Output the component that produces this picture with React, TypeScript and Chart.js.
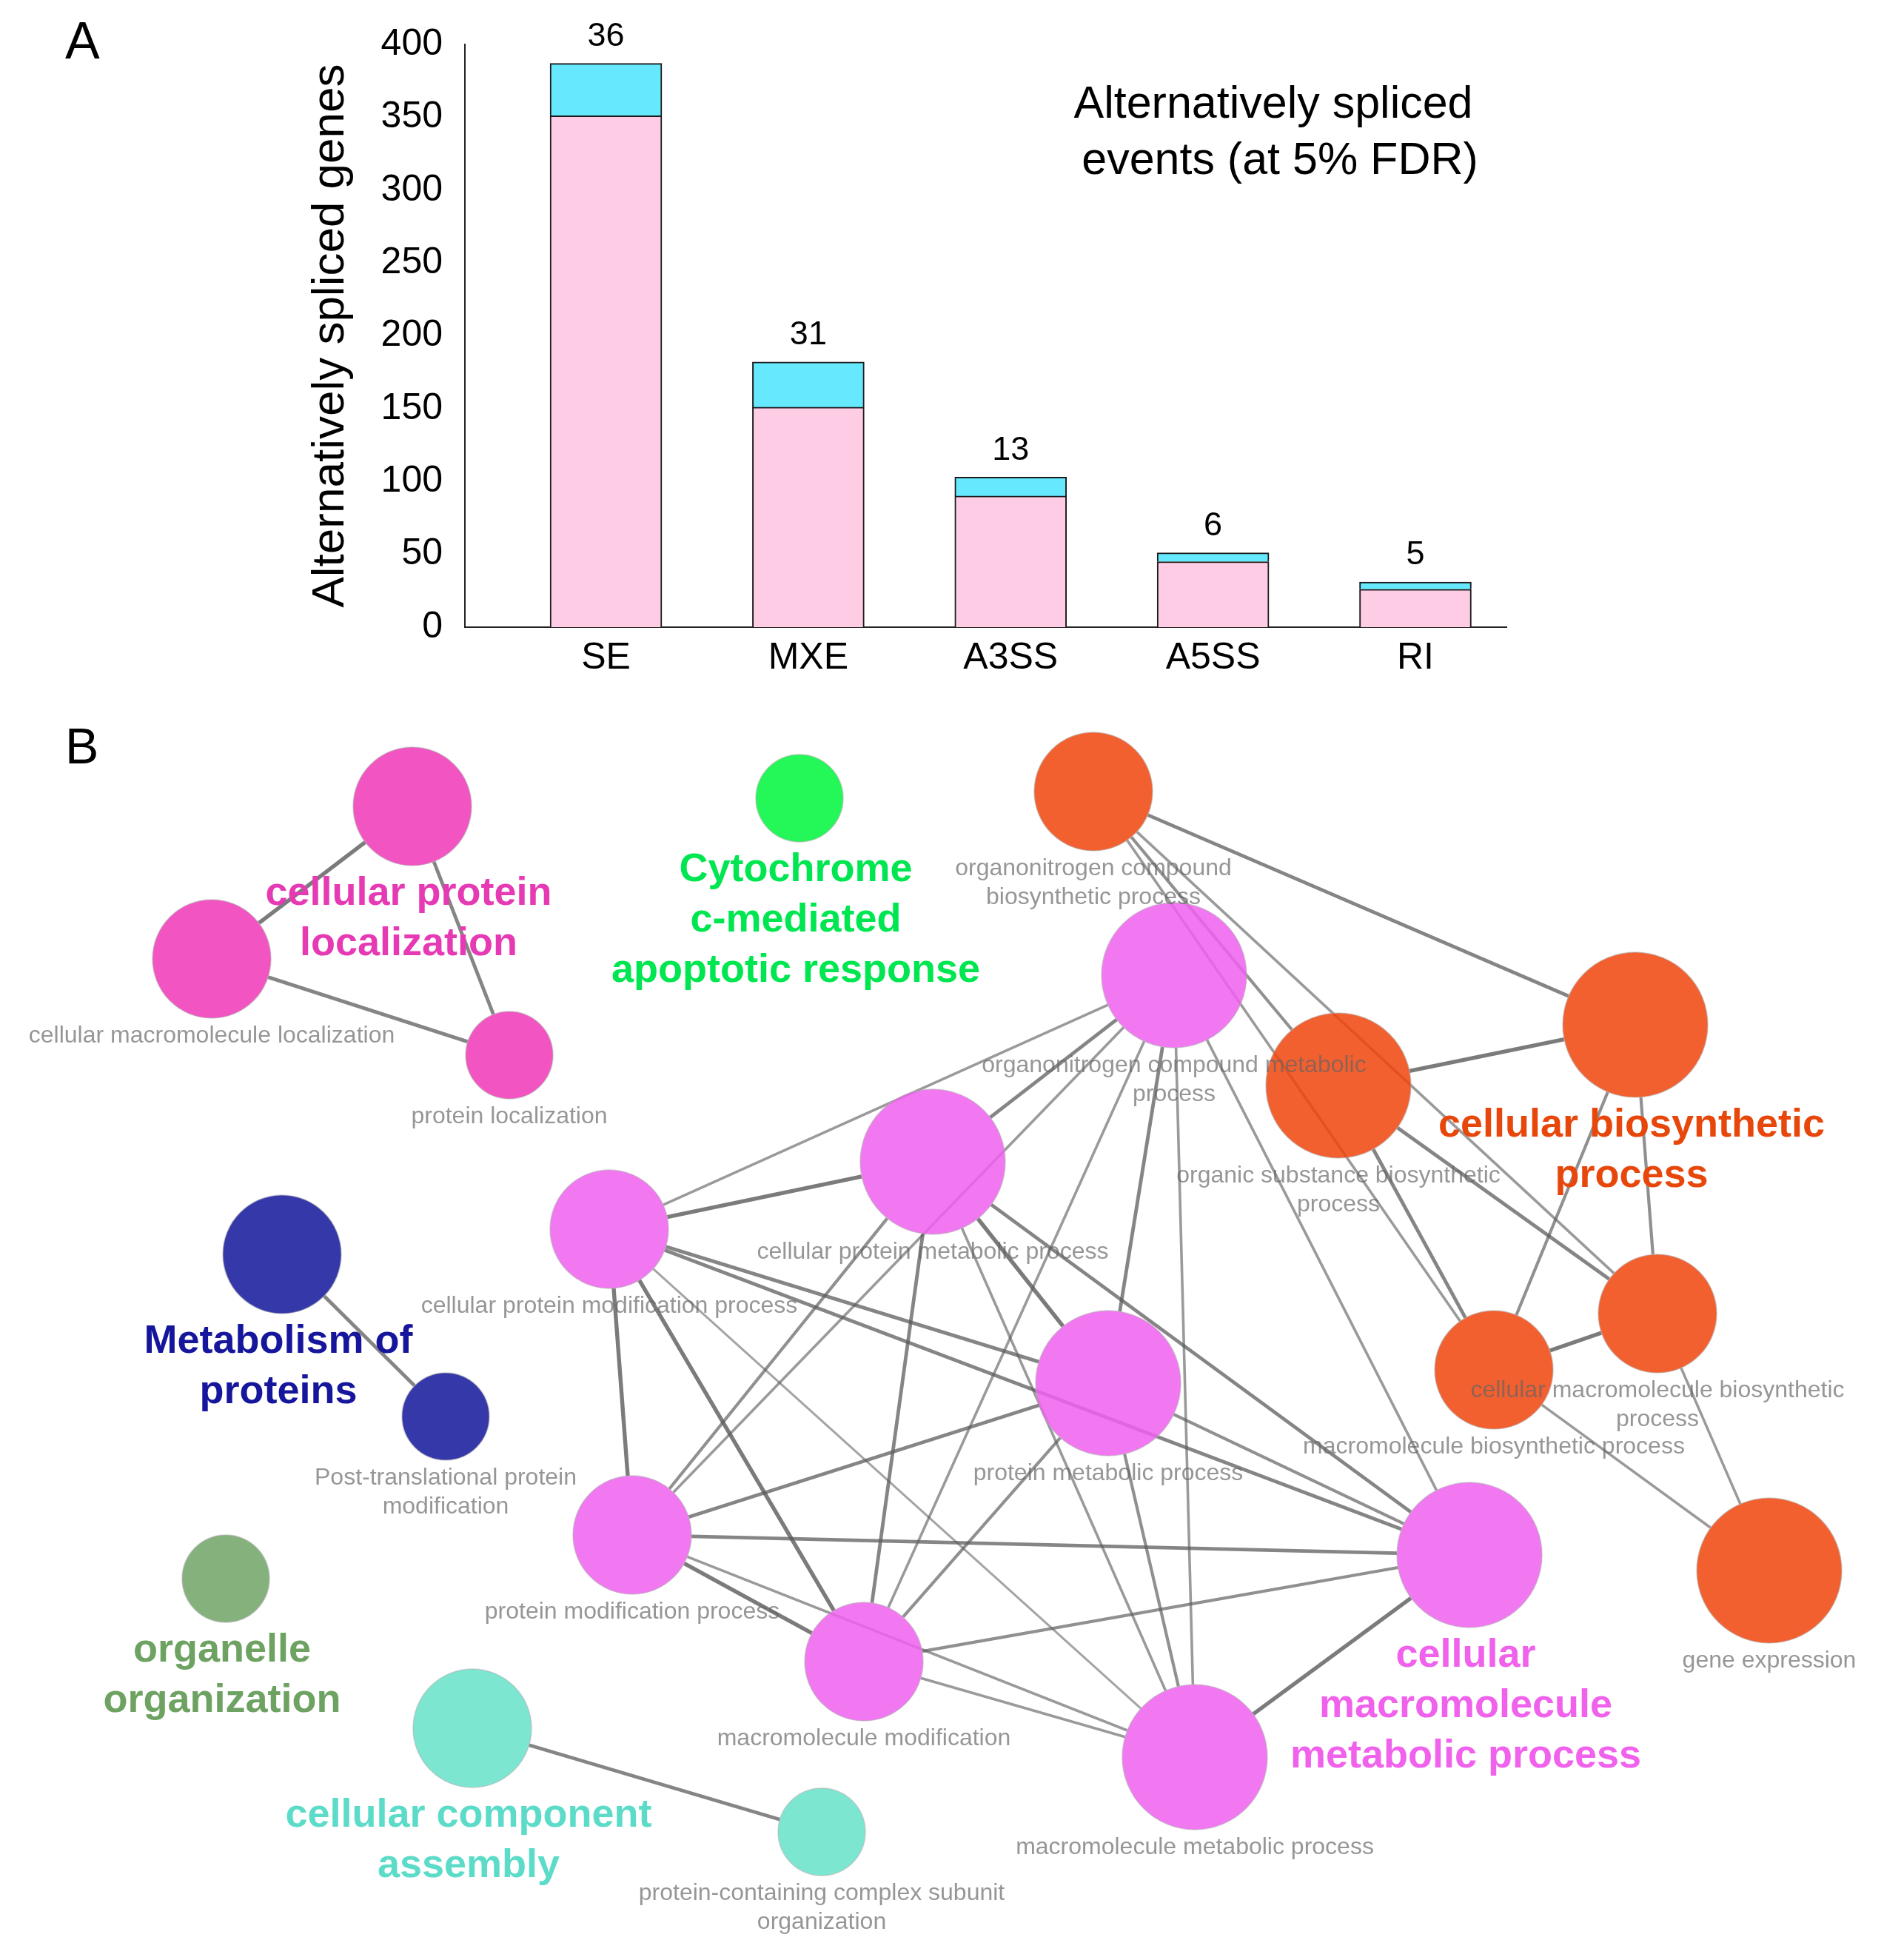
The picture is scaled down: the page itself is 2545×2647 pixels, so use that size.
import React, { useEffect, useRef } from 'react';
import { Chart, registerables } from 'chart.js';

Chart.register(...registerables);

const FONT = "'Liberation Sans', Arial, Helvetica, sans-serif";

// ---------------- Panel A data ----------------
const categories = ['SE', 'MXE', 'A3SS', 'A5SS', 'RI'];
const pinkGenes = [351, 151, 90, 45, 26];
const cyanGenes = [36, 31, 13, 6, 5];
const yTickValues = [0, 50, 100, 150, 200, 250, 300, 350, 400];
const yTitle = 'Alternatively spliced genes';
const noteLines = ['Alternatively spliced', 'events (at 5% FDR)'];

// ---------------- Panel B data (network) ----------------
const nodeNames = [
  'cellular protein localization',
  'cellular macromolecule localization',
  'protein localization',
  'Cytochrome c-mediated apoptotic response',
  'organonitrogen compound biosynthetic process',
  'organonitrogen compound metabolic process',
  'organic substance biosynthetic process',
  'cellular biosynthetic process',
  'cellular protein metabolic process',
  'cellular protein modification process',
  'Metabolism of proteins',
  'Post-translational protein modification',
  'protein metabolic process',
  'cellular macromolecule biosynthetic process',
  'macromolecule biosynthetic process',
  'protein modification process',
  'macromolecule modification',
  'cellular macromolecule metabolic process',
  'gene expression',
  'macromolecule metabolic process',
  'organelle organization',
  'cellular component assembly',
  'protein-containing complex subunit organization',
];
const nodeLabelLines: string[][] = [
  [],
  ['cellular macromolecule localization'],
  ['protein localization'],
  [],
  ['organonitrogen compound', 'biosynthetic process'],
  ['organonitrogen compound metabolic', 'process'],
  ['organic substance biosynthetic', 'process'],
  [],
  ['cellular protein metabolic process'],
  ['cellular protein modification process'],
  [],
  ['Post-translational protein', 'modification'],
  ['protein metabolic process'],
  ['cellular macromolecule biosynthetic', 'process'],
  ['macromolecule biosynthetic process'],
  ['protein modification process'],
  ['macromolecule modification'],
  [],
  ['gene expression'],
  ['macromolecule metabolic process'],
  [],
  [],
  ['protein-containing complex subunit', 'organization'],
];
const nodeX = [557, 286, 688, 1080, 1477, 1586, 1808, 2209, 1260, 823, 381, 602, 1497, 2239, 2018, 854, 1167, 1985, 2390, 1614, 305, 638, 1110];
const nodeY = [1089, 1295, 1425, 1078, 1069, 1317, 1466, 1384, 1569, 1660, 1694, 1913, 1868, 1774, 1850, 2073, 2244, 2100, 2121, 2373, 2132, 2334, 2474];
const nodeSize = [80, 80, 59, 59, 80, 98, 98, 98, 98, 80, 80, 59, 98, 80, 80, 80, 80, 98, 98, 98, 59, 80, 59];
const nodeGroup = [0, 0, 0, 1, 2, 3, 2, 2, 3, 3, 4, 4, 3, 2, 2, 3, 3, 3, 2, 3, 5, 6, 6];

const groupLeader = [0, 3, 7, 17, 10, 20, 21];
const groupLabelLines = [
  ['cellular protein', 'localization'],
  ['Cytochrome', 'c-mediated', 'apoptotic response'],
  ['cellular biosynthetic', 'process'],
  ['cellular', 'macromolecule', 'metabolic process'],
  ['Metabolism of', 'proteins'],
  ['organelle', 'organization'],
  ['cellular component', 'assembly'],
];
const groupFill = [
  'rgba(240,56,184,0.86)',
  'rgba(0,246,60,0.86)',
  'rgba(240,70,14,0.86)',
  'rgba(240,98,240,0.86)',
  'rgba(20,23,155,0.86)',
  'rgba(113,164,104,0.86)',
  'rgba(104,226,202,0.86)',
];
const groupText = ['#E63AB4', '#00E650', '#E8470C', '#F062EC', '#16169C', '#6EA262', '#5CDCC8'];

const edgeFrom = [0, 0, 1, 10, 21,
  4, 4, 4, 4, 6, 6, 6, 7, 7, 13, 13, 14,
  5, 5, 5, 5, 5, 5, 5,
  8, 8, 8, 8, 8, 8,
  9, 9, 9, 9, 9,
  12, 12, 12, 12,
  15, 15, 15,
  16, 16,
  17];
const edgeTo = [1, 2, 2, 11, 22,
  7, 6, 13, 14, 7, 13, 14, 13, 14, 14, 18, 18,
  8, 9, 12, 15, 16, 17, 19,
  9, 12, 15, 16, 17, 19,
  12, 15, 16, 17, 19,
  15, 16, 17, 19,
  16, 17, 19,
  17, 19,
  19];
const edgeWeight = [3, 2.5, 2.5, 2.5, 2.5,
  2.5, 2, 1.5, 1.5, 3, 2.5, 2.5, 2, 2, 3, 1.5, 1.5,
  2.5, 1.5, 2.5, 1.5, 1.5, 1.5, 1.5,
  3, 3, 2, 2.5, 2.5, 1.5,
  2.5, 3, 3, 2.5, 1,
  2.5, 2, 2, 2,
  3, 2.5, 1.5,
  2, 1.5,
  3];

const A_TOP = 960;

const panelAPlugin = {
  id: 'panelAText',
  afterDatasetsDraw(chart: any) {
    const ctx = chart.ctx;
    ctx.save();
    ctx.fillStyle = '#000';
    ctx.textAlign = 'left';
    ctx.textBaseline = 'alphabetic';
    ctx.font = `70px ${FONT}`;
    ctx.fillText('A', 88, 79);
    ctx.font = `61px ${FONT}`;
    ctx.textAlign = 'center';
    ctx.fillText(noteLines[0], 1720, 159);
    ctx.fillText(noteLines[1], 1729, 235);
    const meta = chart.getDatasetMeta(1);
    ctx.font = `45px ${FONT}`;
    ctx.textBaseline = 'middle';
    meta.data.forEach((el: any, i: number) => {
      ctx.fillText(String(cyanGenes[i]), el.x, el.y - 36);
    });
    ctx.restore();
  },
};

const panelBPlugin = {
  id: 'panelBText',
  afterDatasetsDraw(chart: any) {
    const { ctx, scales } = chart;
    const xs = scales.x;
    const ys = scales.y;
    ctx.save();
    ctx.fillStyle = '#000';
    ctx.textAlign = 'left';
    ctx.textBaseline = 'alphabetic';
    ctx.font = `68px ${FONT}`;
    ctx.fillText('B', 88, 1031 - A_TOP);

    ctx.font = `32px ${FONT}`;
    ctx.textAlign = 'center';
    ctx.textBaseline = 'middle';
    ctx.fillStyle = 'rgba(100,100,100,0.68)';
    nodeLabelLines.forEach((lines, i) => {
      const cx = xs.getPixelForValue(nodeX[i]);
      const cy = ys.getPixelForValue(nodeY[i]);
      lines.forEach((t, k) => ctx.fillText(t, cx, cy + nodeSize[i] + 24 + k * 39));
    });

    ctx.font = `bold 54px ${FONT}`;
    groupLeader.forEach((n, g) => {
      const cx = xs.getPixelForValue(nodeX[n]) - 5;
      const cy = ys.getPixelForValue(nodeY[n]);
      ctx.fillStyle = groupText[g];
      groupLabelLines[g].forEach((t, k) => ctx.fillText(t, cx, cy + nodeSize[n] + 38 + k * 68));
    });
    ctx.restore();
  },
};

export default function App() {
  const refA = useRef<HTMLCanvasElement>(null);
  const refB = useRef<HTMLCanvasElement>(null);

  useEffect(() => {
    document.body.style.margin = '0';
    document.body.style.background = '#fff';

    const tickFont = { family: FONT, size: 50 };
    const chartA = new Chart(refA.current as HTMLCanvasElement, {
      type: 'bar',
      data: {
        datasets: [
          {
            label: 'genes',
            data: pinkGenes.map((v, i) => ({ x: i, y: v })),
            backgroundColor: '#FFCCE6',
            borderColor: '#1a1a1a',
            borderWidth: 2,
            barThickness: 151,
          },
          {
            label: 'events',
            data: cyanGenes.map((v, i) => ({ x: i, y: v })),
            backgroundColor: '#66E8FF',
            borderColor: '#1a1a1a',
            borderWidth: 2,
            barThickness: 151,
          },
        ],
      } as any,
      options: {
        responsive: false,
        maintainAspectRatio: false,
        animation: false,
        events: [],
        layout: { autoPadding: false, padding: { left: 0, right: 510, top: 57, bottom: 0 } },
        plugins: { legend: { display: false }, tooltip: { enabled: false } },
        scales: {
          x: {
            type: 'linear',
            offset: false,
            stacked: true,
            min: -0.697,
            max: 4.45,
            grid: { display: false, drawTicks: false, offset: false },
            border: { display: true, color: '#222', width: 2 },
            afterBuildTicks: (s: any) => {
              s.ticks = categories.map((_, i) => ({ value: i }));
            },
            afterFit: (s: any) => {
              s.height = 113;
            },
            ticks: {
              autoSkip: false,
              maxRotation: 0,
              minRotation: 0,
              padding: 12,
              color: '#000',
              font: tickFont,
              callback: (v: any) => categories[v as number] ?? '',
            },
          },
          y: {
            type: 'linear',
            stacked: true,
            min: 0,
            max: 400,
            grid: { display: false, drawTicks: false },
            border: { display: true, color: '#222', width: 2 },
            afterBuildTicks: (s: any) => {
              s.ticks = yTickValues.map((v) => ({ value: v }));
            },
            afterFit: (s: any) => {
              s.width = 628;
            },
            ticks: { padding: 30, color: '#000', font: tickFont },
            title: {
              display: true,
              text: yTitle,
              color: '#000',
              font: { family: FONT, size: 62 },
              padding: { top: 410, bottom: 0 },
            },
          },
        },
      } as any,
      plugins: [panelAPlugin],
    });

    const edgeDatasets = edgeFrom.map((a, k) => {
      const b = edgeTo[k];
      const w = edgeWeight[k];
      const dx = nodeX[b] - nodeX[a];
      const dy = nodeY[b] - nodeY[a];
      const d = Math.hypot(dx, dy);
      const ux = dx / d;
      const uy = dy / d;
      return {
        type: 'line',
        label: `${nodeNames[a]} — ${nodeNames[b]}`,
        data: [
          { x: nodeX[a] + ux * nodeSize[a], y: nodeY[a] + uy * nodeSize[a] },
          { x: nodeX[b] - ux * nodeSize[b], y: nodeY[b] - uy * nodeSize[b] },
        ],
        borderColor: `rgba(90,90,90,${(0.425 + 0.125 * w).toFixed(3)})`,
        borderWidth: 1.8 + 1.2 * w,
        pointRadius: 0,
        fill: false,
        tension: 0,
        order: 1,
      };
    });

    const chartB = new Chart(refB.current as HTMLCanvasElement, {
      type: 'scatter',
      data: {
        datasets: [
          {
            type: 'scatter',
            label: 'terms',
            data: nodeX.map((v, i) => ({ x: v, y: nodeY[i] })),
            pointRadius: nodeSize,
            pointBackgroundColor: nodeGroup.map((g) => groupFill[g]),
            pointBorderColor: 'rgba(175,175,175,0.55)',
            pointBorderWidth: 1.5,
            order: 0,
          },
          ...edgeDatasets,
        ],
      } as any,
      options: {
        responsive: false,
        maintainAspectRatio: false,
        animation: false,
        events: [],
        clip: false,
        layout: { autoPadding: false, padding: 0 },
        plugins: { legend: { display: false }, tooltip: { enabled: false } },
        scales: {
          x: { type: 'linear', display: false, offset: false, min: 0, max: 2545 },
          y: { type: 'linear', display: false, offset: false, min: A_TOP, max: 2647, reverse: true },
        },
      } as any,
      plugins: [panelBPlugin],
    });

    return () => {
      chartA.destroy();
      chartB.destroy();
    };
  }, []);

  return (
    <div style={{ position: 'relative', width: 2545, height: 2647, background: '#fff' }}>
      <canvas
        ref={refA}
        width={2545}
        height={A_TOP}
        style={{ position: 'absolute', left: 0, top: 0, width: 2545, height: A_TOP }}
      />
      <canvas
        ref={refB}
        width={2545}
        height={2647 - A_TOP}
        style={{ position: 'absolute', left: 0, top: A_TOP, width: 2545, height: 2647 - A_TOP }}
      />
    </div>
  );
}
